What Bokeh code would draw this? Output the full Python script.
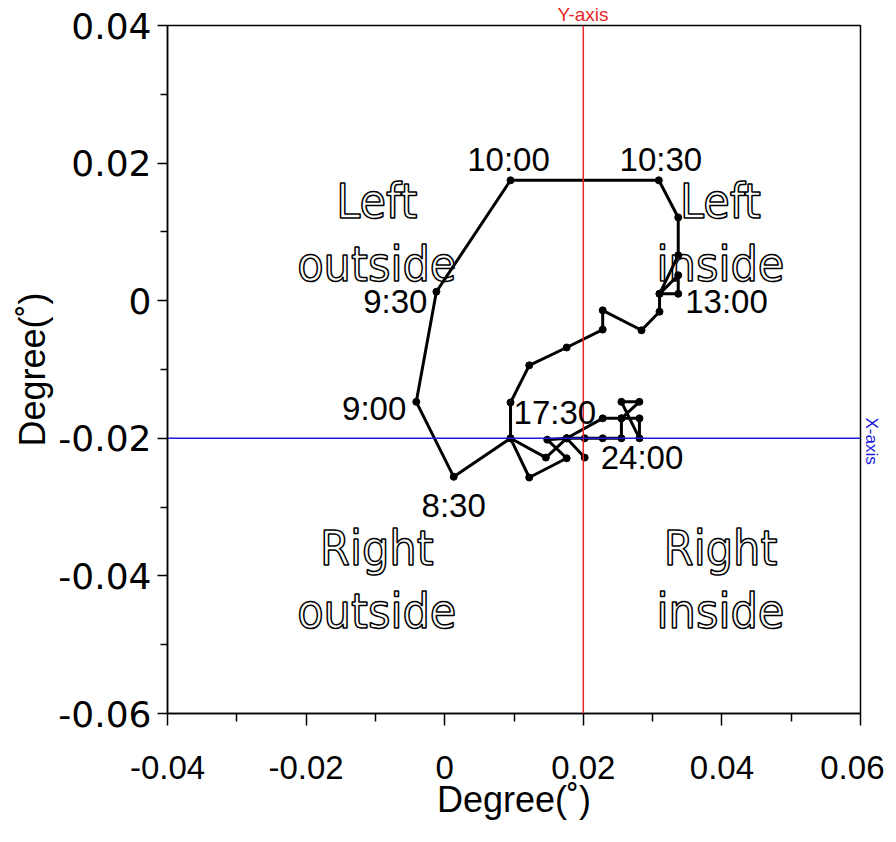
import math
from bokeh.plotting import figure
from bokeh.models import (ColumnDataSource, FixedTicker, CustomJSTickFormatter, Span, Label, Range1d, Title)
from bokeh.core.properties import value
from bokeh.embed import file_html
from bokeh.resources import INLINE

# ---- data (degrees) ----
path_x = [0.0176, 0.0146, 0.0095, 0.0013, -0.0041, -0.0012, 0.0095, 0.0309, 0.0337, 0.0337,
          0.0310, 0.0337, 0.0337, 0.0310, 0.0310, 0.0284, 0.0228, 0.0228, 0.0176, 0.0122,
          0.0095, 0.0095, 0.0122, 0.0176, 0.0148, 0.0176, 0.0228, 0.0255, 0.0281, 0.0255,
          0.0281, 0.0281, 0.0255, 0.0255, 0.0228, 0.0202, 0.0176, 0.0202]
path_y = [-0.0200, -0.0228, -0.0200, -0.0256, -0.0147, 0.0013, 0.0175, 0.0175, 0.0121, 0.0066,
          0.0010, 0.0037, 0.0010, 0.0010, -0.0016, -0.0043, -0.0014, -0.0042, -0.0068, -0.0094,
          -0.0148, -0.0200, -0.0257, -0.0229, -0.0202, -0.0200, -0.0171, -0.0171, -0.0147, -0.0147,
          -0.0200, -0.0171, -0.0171, -0.0200, -0.0200, -0.0200, -0.0200, -0.0228]
time_index = [3, 4, 5, 6, 7, 12, 21, 37]
time_text = ["8:30", "9:00", "9:30", "10:00", "10:30", "13:00", "17:30", "24:00"]

x_ticks = [-0.04, -0.02, 0.0, 0.02, 0.04, 0.06]
y_ticks = [-0.06, -0.04, -0.02, 0.0, 0.02, 0.04]
x_minor = [-0.03, -0.01, 0.01, 0.03, 0.05]
y_minor = [-0.05, -0.03, -0.01, 0.01, 0.03]

ref_x = 0.02   # "Y-axis" reference line
ref_y = -0.02  # "X-axis" reference line

quad_text = ["Left\noutside", "Left\ninside", "Right\noutside", "Right\ninside"]
quad_x = [-0.0098, 0.0398, -0.0098, 0.0398]
quad_y = [0.0099, 0.0099, -0.0405, -0.0405]

FONT = "Liberation Sans"

p = figure(width=884, height=826, output_backend="svg", toolbar_location=None,
           x_range=Range1d(-0.04, 0.06), y_range=Range1d(-0.06, 0.04),
           min_border_left=167, min_border_right=24, min_border_top=25, min_border_bottom=113)
p.grid.visible = False
p.outline_line_color = "black"
p.outline_line_width = 1.5
p.background_fill_color = "white"
p.border_fill_color = "white"

fmt = CustomJSTickFormatter(code="return (Math.abs(tick) < 1e-9) ? '0' : tick.toFixed(2);")
p.xaxis.ticker = FixedTicker(ticks=x_ticks, minor_ticks=x_minor)
p.yaxis.ticker = FixedTicker(ticks=y_ticks, minor_ticks=y_minor)
for ax in (p.xaxis, p.yaxis):
    ax.formatter = fmt
    ax.axis_line_width = 1.5
    ax.axis_line_color = "black"
    ax.major_tick_line_width = 1.5
    ax.minor_tick_line_width = 1.5
    ax.major_tick_in = 0
    ax.minor_tick_in = 0
    ax.major_label_text_color = "black"
    ax.axis_label_text_font = FONT
    ax.axis_label_text_font_size = "36px"
    ax.axis_label_text_font_style = "normal"
    ax.axis_label_text_color = "black"
p.xaxis.major_label_text_font = FONT
p.xaxis.major_label_text_font_size = "33px"
p.yaxis.major_label_text_font = "DejaVu Sans"
p.yaxis.major_label_text_font_size = "36px"
p.xaxis.major_tick_out = 12
p.xaxis.minor_tick_out = 8
p.yaxis.major_tick_out = 10
p.yaxis.minor_tick_out = 7
p.xaxis.major_label_standoff = 30
p.yaxis.major_label_standoff = 6
p.xaxis.axis_label = "Degree(˚)"
p.yaxis.axis_label = "Degree(˚)"
p.xaxis.axis_label_standoff = -3
p.yaxis.axis_label_standoff = 2

# reference lines
p.add_layout(Span(location=ref_x, dimension="height", line_color="#e8262a", line_width=1.5))
p.add_layout(Span(location=ref_y, dimension="width", line_color="#1a1adc", line_width=1.5))
p.add_layout(Title(text="Y-axis", align="left", offset=390, standoff=2, text_color="#e8262a",
                   text_font=FONT, text_font_size="19px", text_font_style="normal"), "above")
p.add_layout(Title(text="X-axis", align="left", offset=392, standoff=2, text_color="#1a1adc",
                   text_font=FONT, text_font_size="17px", text_font_style="normal"), "right")

# quadrant labels (outlined)
qsrc = ColumnDataSource(dict(x=quad_x, y=quad_y, t=quad_text))
p.text(x="x", y="y", text="t", source=qsrc, text_align="center", text_baseline="middle",
       text_color="white", text_outline_color="black",
       text_font=value("DejaVu Sans Condensed"), text_font_size="48px", text_line_height=1.12)

# path
src = ColumnDataSource(dict(x=path_x, y=path_y))
p.line(x="x", y="y", source=src, line_color="black", line_width=3)
p.scatter(x="x", y="y", source=src, size=7, color="black")

# time labels
opts = {
    "8:30": dict(text_align="center", text_baseline="top", x_offset=0, y_offset=-10),
    "9:00": dict(text_align="right", text_baseline="middle", x_offset=-10, y_offset=-7),
    "9:30": dict(text_align="right", text_baseline="middle", x_offset=-9, y_offset=-10),
    "10:00": dict(text_align="center", text_baseline="bottom", x_offset=-2, y_offset=2),
    "10:30": dict(text_align="center", text_baseline="bottom", x_offset=2, y_offset=2),
    "13:00": dict(text_align="left", text_baseline="middle", x_offset=7, y_offset=-8),
    "17:30": dict(text_align="left", text_baseline="bottom", x_offset=3, y_offset=7),
    "24:00": dict(text_align="left", text_baseline="middle", x_offset=16, y_offset=0),
}
for i, t in zip(time_index, time_text):
    p.add_layout(Label(x=path_x[i], y=path_y[i], text=t, text_font=FONT, text_font_size="33px",
                       text_color="black", **opts[t]))

open("out.html", "w").write(file_html(p, INLINE))
